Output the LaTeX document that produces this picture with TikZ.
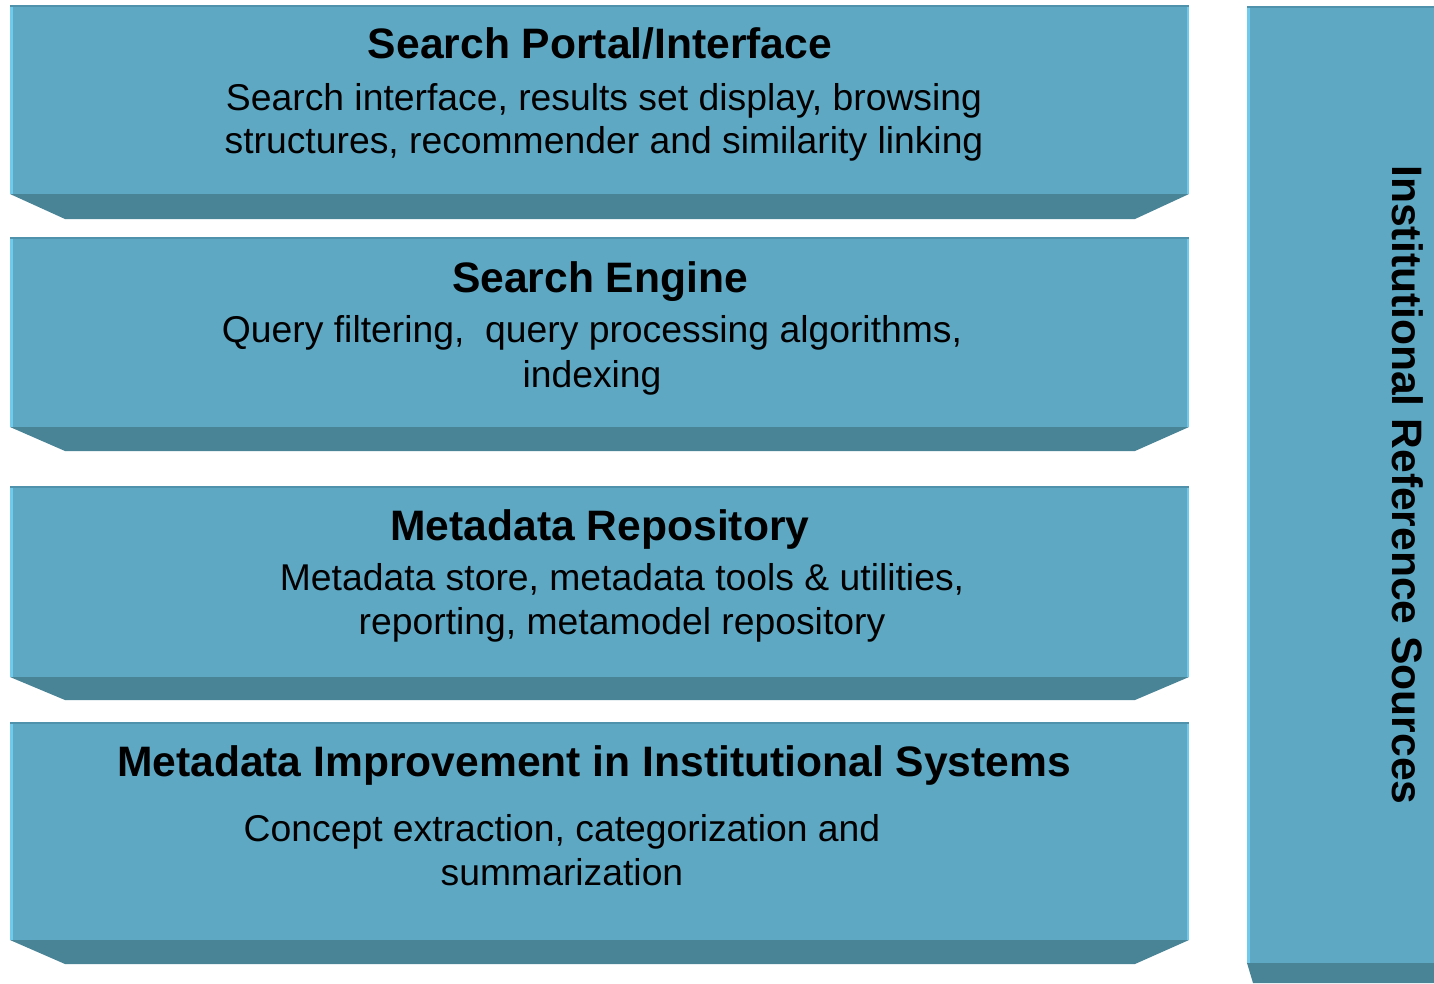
\documentclass[tikz,border=0pt]{standalone}
\usepackage{fontspec}
\setmainfont{Liberation Sans}
\definecolor{face}{RGB}{94,168,196}
\definecolor{bevel}{RGB}{73,131,150}
\definecolor{lightedge}{RGB}{112,202,236}
\definecolor{topedge}{RGB}{78,146,172}
\newcommand\mylayer[3]{%
  \fill[face] (10,#1) rectangle (1189,#2);
  \fill[bevel] (10,#2) -- (1189,#2) -- (1135,#3) -- (65,#3) -- cycle;
  \fill[lightedge] (10,#1) rectangle (13,#2);
  \fill[lightedge] (1187,#1) rectangle (1189,#2);
  \fill[topedge] (10,#1) rectangle (1189,#1+2);
}
\begin{document}
\begin{tikzpicture}[x=1pt,y=-1pt,
  title/.style={font=\fontsize{42.6}{50}\selectfont\bfseries, anchor=base, inner sep=0pt},
  body/.style={font=\fontsize{37.3}{44}\selectfont, anchor=base, inner sep=0pt}]
\useasboundingbox (0,0) rectangle (1434,983);
\mylayer{5}{194}{219}
\mylayer{237}{427}{451}
\mylayer{486}{677}{700}
\mylayer{722}{940}{964}
% right column
\fill[face] (1247,6) rectangle (1434,963);
\fill[bevel] (1247,963) -- (1434,963) -- (1434,983) -- (1253,983) -- cycle;
\fill[lightedge] (1247,6) rectangle (1250,963);
\fill[topedge] (1247,6) rectangle (1434,8);
% texts
\node[title] (t1) at (600,58) {Search Portal/Interface};
\node[body] (b1a) at (604,110) {Search interface, results set display, browsing};
\node[body] (b1b) at (604,153) {structures, recommender and similarity linking};
\node[title] (t2) at (600,292) {Search Engine};
\node[body] (b2a) at (592,342) {Query filtering,\ \ query processing algorithms,};
\node[body] (b2b) at (592,387) {indexing};
\node[title] (t3) at (600,540) {Metadata Repository};
\node[body] (b3a) at (622,590) {Metadata store, metadata tools \& utilities,};
\node[body] (b3b) at (622,634) {reporting, metamodel repository};
\node[title] (t4) at (594,776) {Metadata Improvement in Institutional Systems};
\node[body] (b4a) at (562,841) {Concept extraction, categorization and};
\node[body] (b4b) at (562,885) {summarization};
\node[title, rotate=-90] (side) at (1392,485) {Institutional Reference Sources};
\end{tikzpicture}
\end{document}
